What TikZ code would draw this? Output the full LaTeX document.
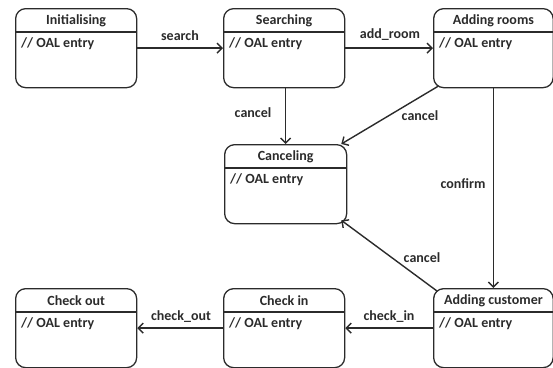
\documentclass[tikz,border=0pt]{standalone}
\usepackage{fontspec}
\setmainfont{Carlito}
\usetikzlibrary{arrows.meta,calc}
\definecolor{ink}{HTML}{2B2B2B}
\tikzset{
  stbox/.style={draw=ink, line width=1.3pt, rounded corners=10pt, anchor=north west, inner sep=0pt, minimum height=79pt},
  sttitle/.style={font=\fontsize{14}{16}\selectfont\bfseries, text=ink, inner sep=0pt},
  stentry/.style={font=\fontsize{14}{16}\selectfont\bfseries, text=ink, inner sep=0pt, anchor=west},
  stsep/.style={draw=ink, line width=2pt},
  tr/.style={draw=ink, line width=1.4pt, -{Straight Barb[length=5pt,width=10pt,line width=1.4pt]}},
  lbl/.style={font=\fontsize{14}{16}\selectfont\bfseries, text=ink, inner sep=0pt}
}
% name, x, y(top), width, title
\newcommand{\umlstate}[5]{%
  \node[stbox, minimum width=#4pt] (#1) at (#2,#3) {};
  \node[sttitle] (#1-title) at ($(#1.north)+(0,12.5)$) {#5};
  \coordinate (#1-sl) at ($(#1.north west)+(0,23.5)$);
  \coordinate (#1-sr) at ($(#1.north east)+(0,23.5)$);
  \draw[stsep] (#1-sl) -- (#1-sr);
  \node[stentry] (#1-entry) at ($(#1.north west)+(6,35.5)$) {// OAL entry};
}
\begin{document}
\begin{tikzpicture}[x=1pt,y=-1pt]
\useasboundingbox (0,0) rectangle (553,367);
\clip (0,0) rectangle (553,367);
\umlstate{init}{15}{8}{121}{Initialising}
\umlstate{search}{223}{8}{121}{Searching}
\umlstate{rooms}{433}{8}{119.5}{Adding rooms}
\umlstate{cancel}{224}{144}{122}{Canceling}
\umlstate{checkout}{15}{288}{121}{Check out}
\umlstate{checkin}{223}{288}{121}{Check in}
\umlstate{customer}{433}{288}{119.5}{Adding customer}

\draw[tr] (init.east) -- (search.west);
\draw[tr] (search.east) -- (rooms.west);
\draw[tr] (cancel.north |- search.south) -- (cancel.north);
\draw[tr] ([xshift=5pt,yshift=2pt]rooms.south west) -- ([xshift=-6pt]cancel.north east);
\draw[tr] (rooms.south) -- (customer.north);
\draw[tr] ([xshift=4pt,yshift=-3pt]customer.north west) -- ([xshift=-6pt,yshift=4pt]cancel.south east);
\draw[tr] (customer.west) -- (checkin.east);
\draw[tr] (checkin.west) -- (checkout.east);

\node[lbl] (l-search) at (180,36) {search};
\node[lbl] (l-add) at (390,35) {add\_room};
\node[lbl] (l-c1) at (253,113) {cancel};
\node[lbl] (l-c2) at (420,116) {cancel};
\node[lbl] (l-conf) at (463,184) {confirm};
\node[lbl] (l-c3) at (422,258) {cancel};
\node[lbl] (l-in) at (389,317) {check\_in};
\node[lbl] (l-out) at (181,317) {check\_out};
\end{tikzpicture}
\end{document}
